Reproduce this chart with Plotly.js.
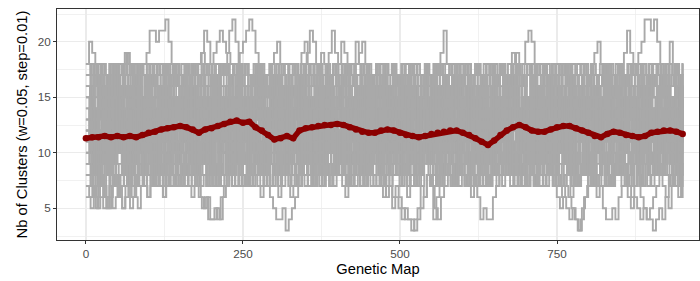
<!DOCTYPE html>
<html>
<head>
<meta charset="utf-8">
<script src="https://cdn.plot.ly/plotly-3.0.1.min.js"></script>
<style>html,body{margin:0;padding:0;background:#fff;}#chart{width:700px;height:281px;}</style>
</head>
<body>
<div id="chart"></div>
<script>
// Genetic map grid step for the gray (per-individual) curves and for the mean curve
const grayStep = 5;
const meanStep = 10;
const mapEnd = 950;

// Number of clusters per window, one array per individual (x = index * grayStep)
const clusters01 = [18,20,19,18,17,16,17,15,16,14, 15,13,14,16,15,17,16,14,13,15, 16,17,15,14,16,18,17,15,14,13, 12,14,15,17,16,15,13,14,16,17, 18,17,16,18,17,19,18,17,18,19, 20,21,22,21,19,18,17,16,15,14, 13,15,14,12,13,15,16,14,13,12, 11,13,14,12,11,13,15,14,16,15, 14,12,13,15,16,17,15,14,13,12, 11,10,12,13,11,12,14,13,12,11, 10,12,13,14,12,11,13,15,14,13, 12,14,15,16,14,13,15,17,16,15, 14,13,12,14,15,13,12,11,13,14, 15,16,14,13,15,16,18,17,16,14, 13,12,11,13,14,12,11,10,12,13, 14,15,13,12,14,15,16,17,15,14, 13,14,16,15,13,12,14,13,15,16, 17,16,15,14,13,15,16,14,13,15, 16,17,18,16,15,14,16,17,15,14, 15];
const clusters02 = [16,15,17,16,14,15,13,14,16,17, 15,16,18,17,16,18,17,18,18,19, 21,21,20,21,21,22,20,18,17,16, 15,14,16,15,13,14,12,13,15,14, 13,12,14,15,13,12,11,13,14,12, 11,12,14,13,15,14,12,13,14,16, 15,17,16,14,15,13,14,16,17,18, 19,21,20,18,17,16,18,19,21,19, 18,20,19,18,17,16,15,14,16,15, 14,13,15,16,14,13,12,14,15,13, 12,11,13,14,12,13,15,14,12,11, 13,14,16,15,14,12,13,15,14,13, 12,14,13,11,12,14,15,13,14,16, 15,14,13,15,17,16,15,14,13,12, 14,15,13,12,11,13,14,12,13,15, 16,14,13,15,14,12,13,14,16,15, 14,13,15,17,16,14,13,15,16,18, 17,19,21,19,18,17,16,15,14,16, 15,13,14,16,15,14,13,15,16,14, 13];
const clusters03 = [8,7,6,5,6,7,5,6,8,7, 6,5,7,8,6,7,9,8,7,6, 7,8,9,7,6,8,9,10,8,7, 8,9,7,6,7,8,6,5,6,4, 4,5,4,6,7,8,7,9,8,7, 8,9,10,8,7,6,8,7,6,5, 4,4,5,3,4,5,6,7,8,7, 9,8,7,8,10,9,8,7,9,10, 8,7,6,8,9,7,8,10,9,8, 7,8,9,7,6,7,8,6,7,6, 5,4,4,3,4,5,7,6,8,7, 4,6,7,8,9,8,7,9,10,8, 7,8,6,7,6,4,5,4,4,6, 7,8,9,8,10,9,8,7,9,8, 7,8,9,10,8,7,8,9,7,8, 7,6,7,6,5,4,3,4,6,7, 8,7,6,7,5,4,4,5,4,6, 7,8,7,6,7,8,6,5,4,5, 6,7,8,7,6,8,9,7,6,8, 7];
const clusters04 = [17,18,16,17,18,16,15,17,18,17, 16,17,19,18,17,16,18,17,15,16, 17,18,16,15,17,18,16,17,18,17, 15,16,17,18,16,17,19,18,17,16, 15,17,16,18,17,16,15,14,16,17, 18,17,16,18,17,15,16,17,18,19, 20,18,17,16,17,18,16,15,17,18, 17,16,18,17,19,18,16,17,18,16, 15,17,18,16,17,20,18,17,16,18, 17,16,15,17,18,16,17,18,17,16, 15,16,18,17,16,15,17,18,16,17, 18,17,19,21,18,17,16,18,17,16, 15,17,16,18,17,16,15,17,18,17, 16,18,17,16,15,17,18,17,18,20, 21,20,18,17,16,18,17,16,15,17, 18,17,16,17,18,16,15,17,18,17, 18,19,20,18,17,16,18,17,16,18, 17,16,17,18,17,19,20,22,22,21, 22,20,18,17,16,20,17,18,17,18, 17];
const clusters05 = [12,9,14,11,15,10,13,9,12,16, 11,14,10,13,8,12,15,11,9,13, 10,14,12,8,11,15,13,10,12,9, 14,11,13,16,12,9,11,14,10,13, 15,12,10,13,11,14,9,12,16,13, 10,12,15,11,9,13,14,10,12,11, 8,11,13,10,14,12,9,11,15,12, 10,13,11,14,12,16,13,10,12,14, 11,9,12,15,13,10,14,11,13,12, 9,12,14,11,13,10,15,12,11,13, 10,14,12,9,11,13,15,12,10,14, 11,13,9,12,15,11,14,10,12,13, 16,12,10,13,11,14,12,9,11,15, 13,10,12,14,11,15,13,12,10,14, 12,9,13,11,15,12,10,14,13,11, 14,12,10,13,15,11,12,9,13,14, 11,13,15,12,10,14,11,13,12,16, 13,10,12,14,11,9,13,15,12,11, 14,12,10,13,15,11,12,14,10,13, 12];
const clusters06 = [9,7,10,8,11,9,6,8,10,7, 9,11,8,10,7,9,12,10,8,9, 11,8,10,9,7,10,12,9,11,8, 10,7,9,11,8,10,9,12,10,8, 7,9,11,10,8,9,7,10,12,9, 11,8,10,9,12,10,8,11,9,7, 9,10,8,11,9,7,10,12,9,8, 10,11,9,8,10,12,9,7,9,11, 8,10,9,11,7,9,10,8,11,9, 10,8,7,9,11,10,8,9,12,10, 8,9,11,7,10,9,8,10,11,9, 7,9,10,8,11,10,9,7,10,12, 9,8,10,11,9,7,8,10,9,11, 10,8,9,11,12,10,9,8,10,9, 11,9,8,10,7,9,11,10,8,9, 10,12,9,8,10,9,7,9,11,10, 8,10,9,11,9,8,10,7,9,10, 12,9,8,10,11,9,7,10,9,8, 10,11,9,8,10,12,9,10,8,9, 10];
const clusters07 = [14,16,13,15,17,12,14,16,15,13, 17,14,12,15,16,13,15,17,14,16, 13,15,17,14,12,16,15,13,17,14, 15,13,16,18,14,15,12,14,16,13, 15,17,14,12,16,15,13,17,14,16, 15,13,16,14,17,15,12,14,16,15, 13,16,14,15,17,13,15,14,16,12, 15,17,14,16,13,15,18,14,13,16, 14,15,17,13,16,14,15,12,16,15, 13,16,14,15,17,14,13,16,15,14, 16,13,15,17,14,12,15,16,13,15, 17,14,16,13,15,14,16,17,13,15, 14,16,15,13,17,14,15,16,12,14, 16,15,13,17,14,16,15,13,16,14, 15,17,13,16,14,15,18,14,13,16, 14,16,15,13,17,15,14,16,13,15, 17,14,16,15,13,16,14,17,15,14, 16,13,15,14,17,15,16,14,13,16, 15,14,17,16,13,15,14,16,17,15, 14];
const clusters08 = [7,6,8,5,7,9,6,5,7,8, 6,8,7,9,5,6,8,7,9,8, 10,8,7,9,8,10,9,7,8,10, 9,8,10,11,9,7,8,10,9,11, 10,8,9,7,8,10,9,11,10,8, 9,10,8,7,9,11,10,8,9,10, 8,7,9,10,8,6,7,9,8,10, 9,11,10,8,9,7,8,10,9,8, 10,9,8,7,9,10,8,9,11,10, 8,9,10,8,7,9,10,11,9,8, 9,8,7,9,10,8,9,11,10,8, 7,5,4,6,8,9,7,8,10,9, 8,7,9,8,7,9,10,8,7,9, 8,9,10,8,9,7,8,10,9,8, 10,9,8,7,9,10,8,9,11,9, 8,7,9,10,8,9,7,8,10,9, 8,9,7,8,10,9,8,7,9,10, 8,9,7,8,10,9,8,7,9,8, 7,9,8,10,9,8,7,9,10,8, 9];
const clusters09 = [11,13,10,12,9,11,14,12,10,13, 12,10,11,13,12,14,11,10,12,11, 13,11,10,12,14,11,13,12,10,11, 12,14,13,11,10,12,13,11,14,12, 11,13,12,10,11,14,12,13,11,12, 14,12,11,13,10,12,11,13,12,14, 11,10,12,13,11,12,14,12,10,13, 12,11,13,10,12,14,11,12,13,11, 13,12,10,11,13,12,11,14,12,10, 12,13,11,12,10,13,12,11,14,12, 11,13,12,10,12,11,13,14,12,11, 12,10,13,11,12,14,11,13,12,10, 11,13,12,14,11,10,12,13,11,12, 14,12,11,13,12,10,11,13,12,14, 12,11,13,10,12,13,11,12,14,11, 13,12,10,11,13,12,14,11,12,13, 11,12,13,10,12,11,13,12,14,11, 12,13,11,12,10,13,12,11,13,12, 11,13,12,14,11,12,10,13,12,11, 12];
const clusters10 = [16,17,15,18,16,17,15,16,18,17, 15,16,17,15,16,18,16,17,15,16, 17,16,18,17,15,16,17,18,16,17, 16,18,17,15,17,18,19,21,20,18, 19,20,21,20,19,21,22,20,18,17, 16,17,15,16,18,17,16,15,17,16, 18,17,16,15,17,16,18,17,19,20, 18,17,16,18,17,15,16,17,18,16, 17,15,16,18,17,16,15,17,18,16, 15,17,16,18,17,15,16,18,17,16, 17,16,15,17,18,16,17,15,16,17, 18,16,17,15,16,18,17,16,15,17, 16,18,17,15,16,17,18,16,17,15, 16,17,18,16,17,19,18,17,16,18, 17,16,15,17,18,16,17,15,16,18, 17,16,18,17,15,16,17,18,16,17, 15,16,17,18,16,17,15,16,18,17, 16,17,18,16,15,17,18,17,16,17, 18,16,17,15,16,18,17,16,15,17, 16];
const clusters11 = [10,8,11,9,12,10,8,9,11,10, 12,9,10,8,11,13,10,9,11,12, 9,10,12,11,8,10,9,11,13,10, 11,9,8,10,7,6,5,6,4,4, 5,4,6,7,9,10,8,11,12,10, 9,11,10,12,8,10,11,9,12,10, 8,10,9,11,13,10,12,9,10,11, 12,10,8,11,9,12,10,11,13,9, 10,12,11,9,10,8,11,12,10,9, 11,13,10,12,9,11,10,8,11,12, 10,9,11,12,10,13,11,9,10,12, 11,10,8,9,11,12,10,13,11,10, 9,11,12,10,8,10,11,9,12,10, 11,13,10,9,11,12,10,8,9,11, 12,10,11,9,10,12,11,8,7,6, 5,6,5,4,5,4,3,5,6,8, 9,11,10,12,9,10,11,13,10,9, 11,12,10,9,11,10,12,11,9,10, 12,10,11,9,10,12,11,10,9,11, 10];
const clusters12 = [13,15,11,14,12,16,13,10,14,12, 15,13,11,14,16,12,13,15,11,14, 12,16,13,11,15,14,12,10,13,15, 14,11,13,16,12,14,15,11,13,12, 16,13,11,14,12,15,13,14,11,13, 15,12,14,13,11,16,14,12,13,15, 12,14,11,13,15,12,14,16,13,11, 14,12,15,13,11,14,16,12,13,15, 12,14,13,11,15,13,12,16,14,12, 13,15,11,14,12,16,13,12,14,11, 15,13,12,14,16,11,13,15,12,14, 13,11,15,12,14,16,13,12,11,14, 15,12,14,13,11,15,12,14,16,13, 12,14,11,15,13,12,16,14,13,11, 14,12,15,13,16,11,13,14,12,15, 13,11,14,12,15,16,13,12,14,11, 15,13,12,14,11,15,13,16,12,14, 13,15,12,11,14,13,16,12,15,13, 11,14,12,15,13,16,14,12,13,15, 14];
const clusters13 = [6,5,7,6,8,5,6,7,5,6, 7,5,6,8,7,6,5,7,8,6, 8,7,9,8,6,7,8,9,7,8, 9,7,8,10,8,9,7,8,9,10, 8,7,9,8,10,9,8,7,9,8, 7,9,8,10,9,7,8,9,7,8, 9,8,7,8,10,9,7,8,9,10, 8,9,7,8,9,10,8,7,9,8, 10,8,9,7,8,9,10,8,7,9, 8,7,9,10,8,6,7,5,6,5, 4,5,4,4,3,4,5,6,8,7, 9,8,7,9,8,10,9,7,8,9, 7,8,9,7,8,10,9,8,7,9, 8,9,7,10,8,9,7,8,9,8, 10,9,7,8,9,8,7,9,10,8, 9,7,8,9,10,8,7,9,8,10, 8,9,7,8,9,10,8,7,9,8, 7,8,6,5,6,5,4,5,4,4, 3,4,5,4,6,5,7,8,7,6, 7];
const clusters14 = [15,14,16,17,15,13,16,14,17,15, 14,16,15,13,17,15,16,14,16,17, 15,13,16,15,17,14,16,15,13,16, 17,15,14,16,18,15,13,16,15,17, 14,16,15,13,17,15,14,16,18,15, 13,16,14,15,17,16,14,13,15,16, 17,15,14,16,13,15,17,16,14,15, 16,14,17,15,13,16,15,14,17,15, 16,18,15,14,16,15,13,17,15,14, 16,15,17,14,13,16,15,18,16,14, 15,17,14,16,15,13,16,14,17,15, 16,14,15,17,13,16,15,14,16,15, 17,15,14,16,13,15,16,17,15,14, 16,15,17,14,16,15,13,16,17,15, 14,16,15,17,13,16,15,14,16,18, 15,14,16,15,17,14,16,15,13,16, 15,17,14,16,15,13,16,15,17,14, 16,15,14,17,15,16,14,15,16,17, 15,14,16,15,17,14,15,16,14,15, 16];
const clusters15 = [11,14,9,12,8,13,10,15,11,9, 13,10,12,8,14,11,9,13,10,12, 15,11,8,12,10,14,9,11,13,10, 12,8,11,14,10,13,9,12,11,15, 10,12,9,13,11,8,12,14,10,11, 13,9,12,10,14,11,8,13,10,12, 11,14,10,8,12,13,9,11,15,10, 12,9,13,11,10,14,12,8,11,13, 10,12,14,9,11,13,10,12,8,11, 14,10,12,11,9,13,11,14,10,12, 9,11,13,10,14,12,8,11,13,10, 12,14,9,11,10,13,12,8,11,14, 10,12,11,9,13,10,14,11,12,8, 11,13,10,12,14,9,11,13,10,12, 14,11,9,12,10,13,11,8,12,14, 10,12,13,9,11,14,10,12,11,8, 12,10,13,11,9,14,12,10,13,11, 8,12,14,10,11,13,9,12,10,14, 11,9,13,12,10,14,11,8,12,10, 13];
const clusters16 = [18,17,18,16,17,18,17,16,18,17, 18,17,19,18,17,18,16,17,18,17, 18,16,17,18,17,18,17,16,18,17, 17,18,16,17,18,17,16,18,17,18, 16,17,18,17,18,16,17,18,17,16, 18,17,16,18,17,18,16,17,18,17, 16,18,17,18,16,17,18,17,18,16, 17,18,16,17,18,17,18,16,17,18, 17,16,18,17,18,17,16,18,17,18, 16,17,18,17,16,18,17,18,16,17, 18,17,16,18,17,18,17,16,18,17, 16,18,17,18,16,17,18,17,16,18, 17,18,16,17,18,17,16,18,17,18, 16,17,18,17,18,16,17,18,17,16, 18,17,16,18,17,18,17,16,18,17, 16,18,17,18,16,17,18,17,18,16, 17,18,17,16,18,17,18,16,17,18, 17,16,18,17,18,17,16,18,17,18, 16,17,18,17,18,16,17,18,17,16, 18];
const clusters17 = [9,8,10,7,9,11,8,10,9,7, 8,10,9,11,8,7,9,10,8,9, 11,9,8,10,7,9,10,8,11,9, 8,10,9,7,8,10,11,9,8,10, 9,7,8,10,9,11,8,9,10,8, 7,9,10,8,9,11,10,8,7,9, 10,8,9,11,10,8,9,7,10,9, 8,10,11,9,8,10,9,7,8,10, 9,11,8,10,9,8,10,9,7,8, 10,9,11,8,10,9,7,8,10,11, 9,8,10,9,7,8,10,11,9,8, 10,9,8,10,11,9,7,8,10,9, 8,10,9,11,8,9,10,7,8,10, 9,8,10,9,11,10,8,9,7,9, 10,8,9,11,9,7,8,10,9,8, 10,9,11,8,9,10,7,9,8,10, 9,11,8,10,9,7,8,10,9,11, 8,9,10,7,9,8,10,11,9,8, 10,9,8,10,11,9,7,8,10,9, 8];
const clusters18 = [13,14,12,15,13,16,14,12,15,17, 16,18,19,17,15,14,13,15,12,14, 13,15,14,12,16,13,14,15,12,13, 15,14,12,13,16,14,15,13,12,14, 16,13,15,14,12,13,15,16,14,13, 12,14,15,13,16,14,12,13,15,14, 13,15,16,14,12,13,15,14,16,13, 14,12,15,13,14,16,15,13,12,14, 15,13,14,16,17,18,19,20,18,16, 14,15,13,12,14,16,13,15,14,12, 13,15,14,16,13,12,14,15,13,16, 14,13,15,12,14,13,16,14,15,13, 12,14,15,13,16,14,13,12,15,14, 13,16,14,15,17,18,19,17,16,14, 15,13,14,12,16,14,15,13,14,16, 13,12,15,14,13,16,14,15,12,13, 15,14,13,16,14,12,15,13,14,15, 16,14,13,15,12,14,16,13,15,14, 13,15,14,12,16,13,15,14,13,16, 14];
const clusters19 = [12,10,13,11,7,9,12,14,11,10, 13,12,9,7,10,12,11,13,14,12, 10,9,11,13,12,7,8,10,12,11, 13,14,12,10,9,11,13,12,7,9, 11,12,10,13,14,12,11,9,10,12, 13,11,7,9,12,10,13,14,11,12, 10,6,8,11,13,12,10,9,12,14, 11,13,12,10,7,9,11,13,12,10, 12,14,11,9,10,13,12,7,9,11, 13,12,10,11,14,12,9,10,13,11, 12,10,6,8,11,13,12,14,10,9, 11,13,12,10,7,9,12,11,13,14, 12,10,9,11,13,12,7,8,10,12, 11,13,14,12,10,9,11,13,12,10, 7,9,12,11,13,14,12,10,11,9, 12,13,11,10,6,8,11,13,12,14, 10,11,13,12,9,7,10,12,11,13, 14,12,10,9,11,13,12,7,9,11, 12,13,10,11,14,12,9,10,13,12, 11];
const clusters20 = [12,16,11,13,17,12,10,14,16,12, 11,15,17,13,12,16,10,13,15,17, 12,11,14,16,13,17,12,10,15,13, 16,12,11,14,17,13,12,15,10,14, 13,16,12,11,15,17,13,12,14,16, 12,10,15,13,16,12,11,14,17,13, 12,15,11,13,16,14,12,17,13,11, 15,12,14,16,11,13,17,12,10,14, 16,13,12,15,11,14,16,12,13,17, 12,11,15,13,16,12,10,14,17,13, 12,16,11,14,13,17,12,10,15,13, 16,12,14,11,13,17,12,15,10,14, 13,16,12,11,15,13,17,12,14,10, 15,13,12,16,11,14,17,13,12,15, 11,14,16,12,13,17,12,10,15,13, 16,12,11,14,17,13,12,15,10,14, 13,16,12,11,15,17,13,12,14,16, 12,10,15,13,16,12,11,14,17,13, 12,15,11,13,16,14,12,17,13,11, 15];
const clusters21 = [8,16,10,17,7,15,12,18,9,14, 17,8,13,16,7,11,18,10,15,8, 16,9,14,17,8,12,18,7,15,10, 17,9,13,16,8,14,18,10,7,15, 12,17,8,16,10,18,9,14,7,16, 11,17,8,15,13,18,7,12,16,9, 17,10,14,8,18,11,16,7,13,17, 9,15,12,18,8,16,10,14,7,17, 13,9,18,11,15,8,16,12,7,17, 10,14,18,9,16,8,13,17,11,7, 15,18,10,14,8,16,12,17,9,13, 18,7,15,11,16,9,17,8,14,12, 18,10,7,16,13,17,8,15,11,9, 16,18,12,8,14,17,10,7,15,13, 9,18,11,16,8,14,17,12,7,15, 10,17,13,9,18,8,16,11,14,7, 17,12,15,9,18,10,13,16,8,14, 11,17,7,15,12,18,9,16,10,13, 8,17,14,11,16,7,15,18,9,12, 16];
const clusters22 = [15,9,13,7,17,11,16,8,14,18, 10,12,7,16,9,17,13,8,15,11, 18,7,12,16,10,14,8,17,11,15, 7,13,18,9,16,12,8,15,17,10, 14,7,16,11,13,8,17,12,18,9, 15,7,14,10,17,8,16,13,9,18, 12,7,15,11,16,9,14,17,8,13, 18,10,7,16,12,15,9,17,11,8, 14,16,10,18,7,13,15,9,17,12, 8,16,11,14,7,18,10,15,13,9, 17,8,12,16,11,7,15,14,18,10, 9,16,13,8,17,12,15,7,11,18, 14,9,16,10,13,8,17,15,7,12, 18,11,14,9,16,8,13,17,10,15, 7,12,18,9,16,11,14,8,17,13, 10,15,7,18,12,9,16,14,8,11, 17,13,10,15,7,18,12,9,16,14, 8,11,17,13,10,15,7,16,12,18, 9,14,11,17,8,13,15,10,16,7, 12];
const clusters23 = [10,17,8,14,16,9,12,18,7,15, 13,8,17,11,15,9,16,12,7,18, 10,14,8,16,12,17,9,15,11,7, 18,13,10,16,8,14,17,9,12,15, 7,18,11,13,16,8,15,10,17,9, 12,16,7,14,18,10,13,8,16,11, 15,9,17,12,7,14,16,10,18,8, 13,11,15,9,17,7,12,16,10,14, 18,8,11,15,13,9,17,7,14,16, 10,12,18,8,15,11,9,16,13,17, 7,14,10,18,12,8,15,16,9,11, 17,13,7,14,10,16,12,18,8,15, 9,11,17,13,16,7,14,10,12,18, 8,15,9,17,11,13,16,7,14,10, 18,12,8,16,9,15,11,17,13,7, 14,10,16,18,8,12,15,9,17,11, 13,7,16,10,14,18,9,12,15,8, 17,11,13,16,7,10,14,18,9,15, 12,8,16,11,17,13,10,14,7,16, 11];
const clusters24 = [14,8,16,11,9,17,13,7,15,10, 18,12,9,16,14,8,11,17,10,15, 7,13,16,9,18,11,14,8,12,17, 10,15,7,13,18,9,16,11,14,8, 17,12,10,15,7,16,13,9,18,11, 14,8,17,10,12,16,9,15,7,13, 18,11,14,8,16,10,12,17,9,15, 7,14,11,18,13,8,16,10,15,12, 9,17,7,14,11,16,13,8,18,10, 15,12,9,17,7,14,16,11,8,13, 18,10,15,9,12,17,7,14,11,16, 8,13,18,10,15,9,12,17,7,14, 11,16,8,13,18,10,15,9,12,17, 7,14,11,16,8,18,13,10,15,9, 12,17,7,14,11,16,8,13,18,10, 15,9,12,17,7,14,11,16,8,13, 18,10,15,9,12,17,7,14,11,16, 8,13,18,10,15,9,12,17,7,14, 11,16,8,13,18,10,15,9,12,17, 13];

// Mean number of clusters (red curve), x = index * meanStep
const meanClusters = [11.3,11.4,11.4,11.5,11.4,11.5,11.4,11.5,11.4,11.6, 11.8,11.9,12.1,12.2,12.3,12.4,12.3,12.1,11.8,12.1, 12.2,12.4,12.6,12.8,12.9,12.7,12.8,12.3,12.0,11.6, 11.2,11.3,11.5,11.3,12.0,12.2,12.3,12.4,12.5,12.5, 12.6,12.5,12.3,12.1,11.9,11.8,11.8,12.0,12.1,12.0, 11.8,11.6,11.5,11.4,11.5,11.7,11.8,11.9,12.0,12.0, 11.8,11.6,11.3,11.0,10.7,11.1,11.6,12.0,12.3,12.5, 12.3,12.0,11.9,11.9,12.1,12.3,12.4,12.4,12.2,12.0, 11.8,11.5,11.4,11.7,11.9,11.8,11.6,11.5,11.4,11.5, 11.8,11.9,12.0,12.0,11.9,11.7];

// Axis labels / ticks
const xTitle = "Genetic Map";
const yTitle = "Nb of Clusters (w=0.05, step=0.01)";
const xTickVals = [0, 250, 500, 750];
const yTickVals = [5, 10, 15, 20];

const individuals = [clusters01, clusters02, clusters03, clusters04, clusters05, clusters06, clusters07, clusters08, clusters09, clusters10,
                     clusters11, clusters12, clusters13, clusters14, clusters15, clusters16, clusters17, clusters18, clusters19, clusters20,
                     clusters21, clusters22, clusters23, clusters24];

// each individual's windows are staggered slightly along the map so their steps do not line up
const traces = individuals.map((vals, k) => {
  const shift = (k * 7 % individuals.length) * grayStep / individuals.length;
  return {
    type: 'scatter', mode: 'lines',
    x: vals.map((v, i) => i === 0 ? 0 : Math.min(i * grayStep + shift, mapEnd)), y: vals,
    line: {color: '#A9A9A9', width: 1.9, shape: 'hv'},
    hoverinfo: 'skip', showlegend: false
  };
});

traces.push({
  type: 'scatter', mode: 'lines+markers',
  x: meanClusters.map((v, i) => i * meanStep), y: meanClusters,
  line: {color: '#8B0000', width: 5.5},
  marker: {color: '#8B0000', size: 6.5},
  hoverinfo: 'skip', showlegend: false
});

const fontFamily = '"Liberation Sans", Arial, Helvetica, sans-serif';

const layout = {
  width: 700, height: 281,
  margin: {l: 56.5, r: 1, t: 9, b: 41, pad: 0},
  paper_bgcolor: '#ffffff', plot_bgcolor: '#ffffff',
  font: {family: fontFamily, color: '#000000'},
  showlegend: false,
  xaxis: {
    range: [-46, 976],
    tickvals: xTickVals, ticktext: xTickVals.map(String),
    ticks: 'outside', ticklen: 3, tickcolor: '#333333', tickwidth: 1,
    tickfont: {size: 11.7, color: '#4D4D4D'},
    showgrid: true, gridcolor: '#EBEBEB', gridwidth: 1.4,
    minor: {dtick: 125, tick0: 0, showgrid: true, gridcolor: '#EBEBEB', gridwidth: 0.7, ticks: ''},
    zeroline: false,
    showline: true, mirror: true, linecolor: '#333333', linewidth: 1,
    title: {text: xTitle, font: {size: 14.7, color: '#000000'}, standoff: 4}
  },
  yaxis: {
    range: [2.14, 22.95],
    tickvals: yTickVals, ticktext: yTickVals.map(String),
    ticks: 'outside', ticklen: 3, tickcolor: '#333333', tickwidth: 1,
    tickfont: {size: 11.7, color: '#4D4D4D'},
    showgrid: true, gridcolor: '#EBEBEB', gridwidth: 1.4,
    minor: {dtick: 2.5, tick0: 0, showgrid: true, gridcolor: '#EBEBEB', gridwidth: 0.7, ticks: ''},
    zeroline: false,
    showline: true, mirror: true, linecolor: '#333333', linewidth: 1,
    title: {text: yTitle, font: {size: 14.7, color: '#000000'}, standoff: 6}
  }
};

Plotly.newPlot('chart', traces, layout, {displayModeBar: false, staticPlot: true});
</script>
</body>
</html>
